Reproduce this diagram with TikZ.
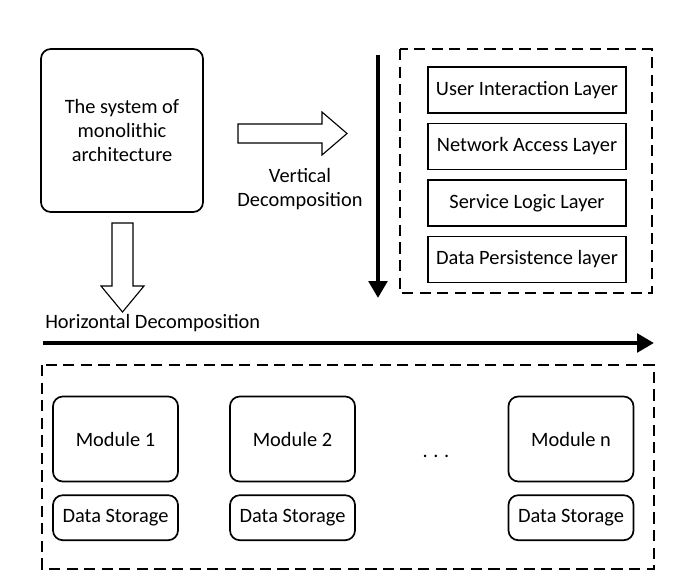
\documentclass[tikz,border=0pt]{standalone}
\usepackage{fontspec}
\setmainfont{Carlito}
\usetikzlibrary{positioning,arrows.meta}

\begin{document}
\begin{tikzpicture}[x=0.025cm,y=-0.025cm,
	every node/.style={font=\fontsize{14.5}{17}\selectfont},
	box/.style={draw,line width=1.2pt,rounded corners=7pt,align=center,inner sep=0pt},
	layer/.style={draw,line width=1.2pt,minimum width=4.95cm,minimum height=1.15cm,inner sep=0pt},
	frame/.style={draw,line width=1.4pt,dash pattern=on 8pt off 4.5pt},
	hollow/.style={draw,line width=0.8pt,fill=white},
	bold arrow/.style={line width=3pt,-{Triangle[length=12pt,width=13pt]}}]

	\useasboundingbox (0,0) rectangle (686,586);

	% monolithic system
	\node[box,minimum width=4.05cm,minimum height=4.075cm] (mono) at (122,130.5) {The system of\\monolithic\\architecture};

	% hollow arrows
	\draw[hollow] (238,124) -- (322,124) -- (322,112) -- (347,133.5) -- (322,155) -- (322,143) -- (238,143) -- cycle;
	\draw[hollow] (112,223) -- (133,223) -- (133,286) -- (144,286) -- (122.5,312) -- (101,286) -- (112,286) -- cycle;

	\node[align=center] (vlabel) at (300,189.5) {Vertical\\Decomposition};
	\node[anchor=west,inner sep=0pt] (hlabel) at (45,323) {Horizontal Decomposition};

	% decomposition axes
	\coordinate (vtop) at (378,55);
	\coordinate (vbot) at (378,298);
	\coordinate (hleft) at (43,343);
	\coordinate (hright) at (654,343);
	\draw[bold arrow] (vtop) -- (vbot);
	\draw[bold arrow] (hleft) -- (hright);

	% layers
	\draw[frame] (400,49) rectangle (652,293);
	\node[layer] (l1) at (527,90) {User Interaction Layer};
	\node[layer,below=0.22cm of l1] (l2) {Network Access Layer};
	\node[layer,below=0.22cm of l2] (l3) {Service Logic Layer};
	\node[layer,below=0.22cm of l3] (l4) {Data Persistence layer};

	% modules
	\draw[frame] (42,365) rectangle (654,569);
	\foreach \x/\n/\t in {115.5/1/Module 1, 292.5/2/Module 2, 571/3/Module n}{
		\node[box,minimum width=3.125cm,minimum height=2.125cm] (m\n) at (\x,439) {\t};
		\node[box,minimum width=3.125cm,minimum height=1.125cm,below=0.3cm of m\n] (s\n) {Data Storage};
	}
	\node (dots) at (436,456) {.\hspace{4pt}.\hspace{4pt}.};

\end{tikzpicture}
\end{document}
